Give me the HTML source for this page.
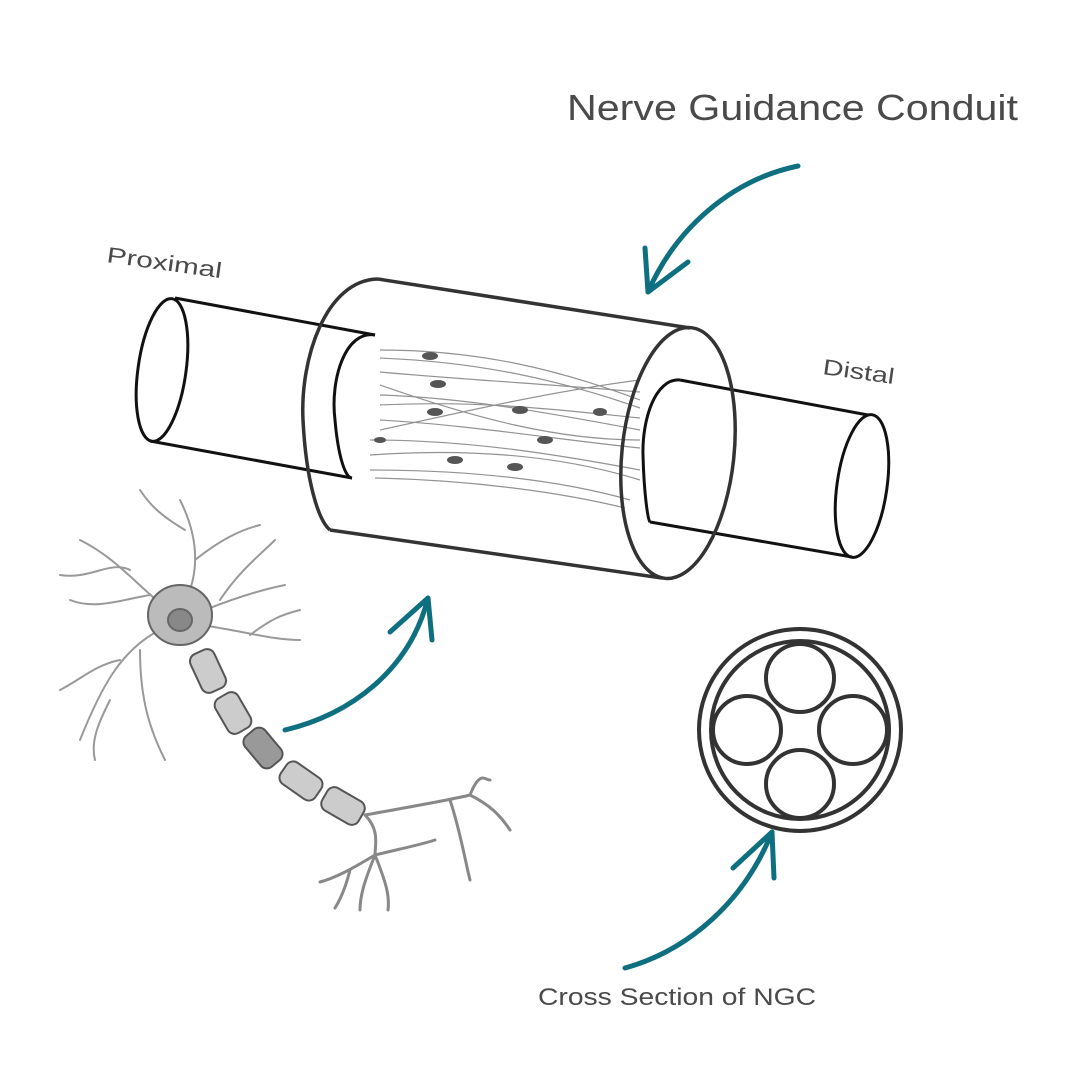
<!DOCTYPE html>
<html><head><meta charset="utf-8"><style>
html,body{margin:0;padding:0;background:#fff}
svg{display:block}
text{font-family:"Liberation Sans",sans-serif;fill:#4a4a4a;font-weight:300}
</style></head><body>
<svg width="1080" height="1080" viewBox="0 0 1080 1080" xmlns="http://www.w3.org/2000/svg">
<rect width="1080" height="1080" fill="#fff"/>
<text x="567" y="120" font-size="36" textLength="451" lengthAdjust="spacingAndGlyphs">Nerve Guidance Conduit</text>
<text x="106" y="262" font-size="22" transform="rotate(8 106 262)" textLength="116" lengthAdjust="spacingAndGlyphs">Proximal</text>
<text x="822" y="374" font-size="22" transform="rotate(8 822 374)" textLength="72" lengthAdjust="spacingAndGlyphs">Distal</text>
<text x="538" y="1005" font-size="24" textLength="278" lengthAdjust="spacingAndGlyphs">Cross Section of NGC</text>

<g fill="none" stroke="#0e6f80" stroke-width="5" stroke-linecap="round" stroke-linejoin="round">
<path d="M798 166 C730 180 675 230 648 292"/>
<path d="M645 248 L648 292 L688 262"/>
<path d="M285 730 C350 715 410 670 428 598"/>
<path d="M390 632 L428 598 L432 640"/>
<path d="M625 968 C690 950 745 900 772 832"/>
<path d="M733 868 L772 832 L774 878"/>
</g>

<g stroke="#777" stroke-width="1.2" fill="none" opacity="0.8">
<path d="M380 350 C480 350 560 370 640 400"/>
<path d="M380 358 C480 362 560 380 640 408"/>
<path d="M380 372 C470 380 560 385 640 392"/>
<path d="M380 395 C470 398 560 415 640 430"/>
<path d="M380 405 C480 400 560 410 640 418"/>
<path d="M380 420 C470 425 560 440 640 448"/>
<path d="M370 440 C470 440 560 455 640 470"/>
<path d="M370 455 C470 448 560 455 640 480"/>
<path d="M370 470 C470 470 560 480 630 500"/>
<path d="M375 478 C470 480 560 492 625 508"/>
<path d="M380 385 C480 420 560 440 640 440"/>
<path d="M380 430 C470 410 560 390 640 380"/>
</g>
<g fill="#555">
<ellipse cx="430" cy="356" rx="8" ry="4"/><ellipse cx="438" cy="384" rx="8" ry="4"/><ellipse cx="435" cy="412" rx="8" ry="4"/>
<ellipse cx="520" cy="410" rx="8" ry="4"/><ellipse cx="545" cy="440" rx="8" ry="4"/><ellipse cx="455" cy="460" rx="8" ry="4"/>
<ellipse cx="515" cy="467" rx="8" ry="4"/><ellipse cx="600" cy="412" rx="7" ry="4"/><ellipse cx="380" cy="440" rx="6" ry="3"/>
</g>

<g fill="none" stroke="#111" stroke-width="3">
<line x1="175" y1="298" x2="375" y2="335"/>
<line x1="150" y1="441" x2="352" y2="478"/>
<ellipse cx="162" cy="370" rx="24" ry="72" transform="rotate(8 162 370)"/>
<path d="M375 335 C345 330 330 380 335 420 C338 455 345 478 352 478"/>
<line x1="680" y1="380" x2="868" y2="415"/>
<line x1="650" y1="522" x2="852" y2="557"/>
<ellipse cx="862" cy="486" rx="25" ry="72" transform="rotate(8 862 486)"/>
<path d="M680 380 C655 378 642 420 643 455 C644 495 648 520 650 522"/>
</g>
<g fill="none" stroke="#333" stroke-width="3.5">
<line x1="378" y1="279" x2="690" y2="328"/>
<line x1="330" y1="530" x2="662" y2="578"/>
<path d="M378 279 C325 280 300 360 303 420 C306 480 318 520 330 530"/>
<ellipse cx="678" cy="453" rx="56" ry="126" transform="rotate(6 678 453)"/>
</g>

<g fill="none" stroke="#333" stroke-width="4">
<circle cx="800" cy="730" r="101"/>
<circle cx="800" cy="730" r="89"/>
<circle cx="800" cy="678" r="34"/>
<circle cx="747" cy="730" r="34"/>
<circle cx="853" cy="730" r="34"/>
<circle cx="800" cy="784" r="34"/>
</g>

<g fill="none" stroke="#999" stroke-width="2" stroke-linecap="round">
<path d="M170 610 C140 590 120 560 80 540 M130 570 C110 560 90 580 60 575 M150 595 C120 600 95 610 70 600"/>
<path d="M160 630 C120 650 100 690 80 740 M120 660 C95 665 80 680 60 690 M140 650 C140 700 150 730 165 760 M110 700 C100 720 90 740 95 760"/>
<path d="M190 590 C200 560 195 530 180 500 M195 560 C220 540 240 530 260 525 M185 530 C160 515 150 505 140 490"/>
<path d="M205 610 C230 600 260 590 285 585 M220 600 C240 570 260 555 275 540"/>
<path d="M200 625 C240 630 270 640 300 640 M250 635 C270 620 280 615 300 610"/>
</g>
<g stroke="#666" stroke-width="2" fill="#bbb">
<ellipse cx="180" cy="615" rx="32" ry="30"/>
<ellipse cx="180" cy="620" rx="12" ry="11" fill="#888"/>
</g>
<g stroke="#555" stroke-width="2" fill="#ccc">
<rect x="195" y="650" width="26" height="42" rx="8" transform="rotate(-25 208 671)"/>
<rect x="220" y="693" width="26" height="40" rx="8" transform="rotate(-30 233 713)"/>
<rect x="250" y="728" width="26" height="40" rx="8" transform="rotate(-40 263 748)" fill="#999"/>
<rect x="288" y="760" width="26" height="42" rx="8" transform="rotate(-55 301 781)"/>
<rect x="330" y="785" width="26" height="42" rx="8" transform="rotate(-60 343 806)"/>
</g>
<g fill="none" stroke="#888" stroke-width="3" stroke-linecap="round">
<path d="M365 815 C380 830 375 845 375 855 M365 815 C420 805 450 800 470 795 M470 795 C480 770 485 780 490 780 M470 795 C490 805 500 815 510 830 M450 800 C460 830 465 860 470 880 M375 855 C395 850 420 845 435 840 M375 855 C350 870 335 878 320 882 M375 855 C365 880 360 895 360 910 M375 855 C385 880 390 895 388 910 M350 870 C345 890 340 900 335 908"/>
</g>
</svg>
</body></html>
